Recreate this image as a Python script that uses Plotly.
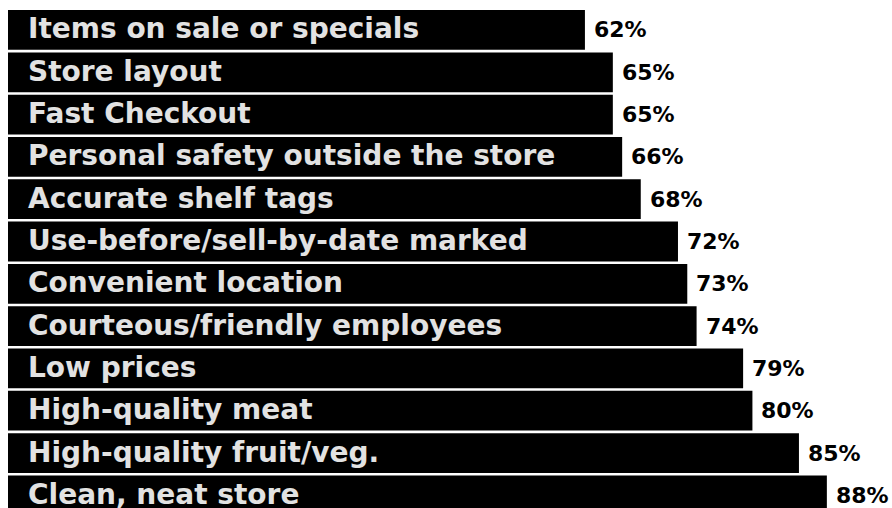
import plotly.graph_objects as go

# Share of shoppers rating each store attribute as important
attributes = [
    "Items on sale or specials",
    "Store layout",
    "Fast Checkout",
    "Personal safety outside the store",
    "Accurate shelf tags",
    "Use-before/sell-by-date marked",
    "Convenient location",
    "Courteous/friendly employees",
    "Low prices",
    "High-quality meat",
    "High-quality fruit/veg.",
    "Clean, neat store",
]
percent = [62, 65, 65, 66, 68, 72, 73, 74, 79, 80, 85, 88]

FONT = "Comic Sans MS, DejaVu Sans, sans-serif"

fig = go.Figure(
    go.Bar(
        x=percent,
        y=attributes,
        orientation="h",
        marker=dict(color="#000000", line=dict(width=0)),
        hoverinfo="skip",
    )
)

annotations = []
for name, val in zip(attributes, percent):
    # attribute name written inside the bar
    annotations.append(dict(
        x=0, y=name, xref="x", yref="y",
        text=f"<b>{name}</b>", showarrow=False,
        xanchor="left", yanchor="middle", xshift=19, yshift=1,
        borderpad=0,
        font=dict(family=FONT, size=28, color="#e2e2e2"),
    ))
    # value label past the end of the bar
    annotations.append(dict(
        x=val, y=name, xref="x", yref="y",
        text=f"<b>{val}%</b>", showarrow=False,
        xanchor="left", yanchor="middle", xshift=8,
        borderpad=0,
        font=dict(family=FONT, size=22, color="#000000"),
    ))

fig.update_layout(
    width=892, height=508,
    margin=dict(l=8, r=0, t=0, b=0),
    paper_bgcolor="white", plot_bgcolor="white",
    bargap=0.06,
    showlegend=False,
    annotations=annotations,
    xaxis=dict(range=[0, 95], visible=False, fixedrange=True),
    yaxis=dict(range=[11.30, -0.709], visible=False, fixedrange=True),
)

fig.write_html("out.html", config={"displayModeBar": False})
